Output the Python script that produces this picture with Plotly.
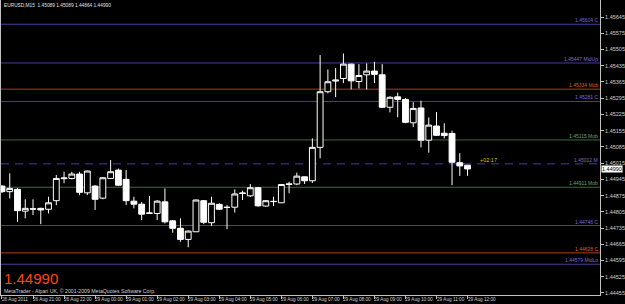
import plotly.graph_objects as go

# ---- data (EURUSD M15) ----
time_labels = ["26 Aug 2011", "26 Aug 21:00", "26 Aug 22:00", "29 Aug 00:00", "29 Aug 01:00",
               "29 Aug 02:00", "29 Aug 03:00", "29 Aug 04:00", "29 Aug 05:00", "29 Aug 06:00",
               "29 Aug 07:00", "29 Aug 08:00", "29 Aug 09:00", "29 Aug 10:00", "29 Aug 11:00",
               "29 Aug 12:00"]
label_bars = [0, 4, 8, 12, 16, 20, 24, 28, 32, 36, 40, 44, 48, 52, 56, 60]

opens = [1.44916, 1.44892, 1.44902, 1.44808, 1.44818, 1.44820, 1.44816, 1.44853, 1.44948, 1.44949,
         1.44968, 1.44887, 1.44916, 1.44864, 1.44949, 1.44985, 1.44945, 1.44851, 1.44838, 1.44798,
         1.44798, 1.44848, 1.44766, 1.44734, 1.44686, 1.44719, 1.44853, 1.44758, 1.44837, 1.44825,
         1.44825, 1.44884, 1.44874, 1.44909, 1.44830, 1.44849, 1.44844, 1.44923, 1.44925, 1.44956,
         1.44939, 1.45083, 1.45323, 1.45369, 1.45380, 1.45442, 1.45367, 1.45396, 1.45412, 1.45396,
         1.45256, 1.45301, 1.45290, 1.45189, 1.45253, 1.45114, 1.45175, 1.45144, 1.45143, 1.45017,
         1.45006]
highs = [1.44920, 1.44971, 1.44908, 1.44859, 1.44859, 1.44823, 1.44870, 1.44964, 1.44978, 1.44978,
         1.44978, 1.44983, 1.44920, 1.44955, 1.45028, 1.44992, 1.44985, 1.44870, 1.44847, 1.44874,
         1.44856, 1.44906, 1.44770, 1.44777, 1.44724, 1.44858, 1.44856, 1.44870, 1.44842, 1.44834,
         1.44902, 1.44896, 1.44925, 1.44912, 1.44856, 1.44870, 1.44925, 1.44935, 1.44974, 1.44957,
         1.45122, 1.45481, 1.45419, 1.45425, 1.45488, 1.45444, 1.45442, 1.45445, 1.45452, 1.45442,
         1.45304, 1.45319, 1.45296, 1.45278, 1.45284, 1.45212, 1.45235, 1.45187, 1.45155, 1.45058,
         1.45007]
lows = [1.44886, 1.44863, 1.44762, 1.44777, 1.44791, 1.44752, 1.44798, 1.44834, 1.44928, 1.44945,
        1.44877, 1.44877, 1.44813, 1.44859, 1.44948, 1.44916, 1.44834, 1.44820, 1.44770, 1.44797,
        1.44770, 1.44755, 1.44715, 1.44676, 1.44652, 1.44718, 1.44752, 1.44744, 1.44813, 1.44730,
        1.44802, 1.44856, 1.44869, 1.44827, 1.44827, 1.44830, 1.44843, 1.44885, 1.44920, 1.44925,
        1.44930, 1.45036, 1.45316, 1.45300, 1.45360, 1.45333, 1.45337, 1.45333, 1.45360, 1.45253,
        1.45234, 1.45213, 1.45187, 1.45171, 1.45083, 1.45060, 1.45132, 1.45122, 1.44920, 1.44960,
        1.44960]
closes = [1.44892, 1.44906, 1.44810, 1.44820, 1.44817, 1.44813, 1.44844, 1.44949, 1.44951, 1.44968,
          1.44889, 1.44981, 1.44859, 1.44952, 1.44978, 1.44920, 1.44853, 1.44838, 1.44795, 1.44800,
          1.44851, 1.44762, 1.44734, 1.44686, 1.44722, 1.44856, 1.44760, 1.44842, 1.44816, 1.44824,
          1.44882, 1.44886, 1.44909, 1.44831, 1.44853, 1.44850, 1.44923, 1.44925, 1.44959, 1.44939,
          1.45083, 1.45323, 1.45366, 1.45373, 1.45442, 1.45370, 1.45393, 1.45412, 1.45398, 1.45256,
          1.45299, 1.45290, 1.45191, 1.45251, 1.45114, 1.45179, 1.45135, 1.45134, 1.45019, 1.45003,
          1.44990]

level_values = [1.45614, 1.45447, 1.45334, 1.45281, 1.45115, 1.45012, 1.44911, 1.44746, 1.44628, 1.44579]
level_names = ["C", "MidUp", "Mob", "C", "Mob", "M", "Mob", "C", "C", "MidLo"]
level_kinds = ["p", "p", "o", "p", "g", "d", "g", "p", "o", "p"]

price_ticks = [1.44455, 1.44525, 1.44595, 1.44665, 1.44735, 1.44805, 1.44875, 1.44945, 1.45015,
               1.45085, 1.45155, 1.45225, 1.45295, 1.45365, 1.45435, 1.45505, 1.45575, 1.45645]

symbol_header = "EURUSD,M15  1.45089 1.45089 1.44864 1.44990"
last_price = 1.44990
timer_text = "+02:17"

# ---- styling ----
FONT = "Liberation Sans"
line_col = {"p": "#4a3c9a", "o": "#a8401a", "g": "#3c6a3c", "d": "#4a3c9a"}
text_col = {"p": "#7a6cd0", "o": "#d0602a", "g": "#6aa06a", "d": "#7a6cd0"}

bars = list(range(len(opens)))

fig = go.Figure()
fig.add_trace(go.Candlestick(
    x=bars, open=opens, high=highs, low=lows, close=closes,
    increasing=dict(line=dict(color="#ffffff", width=1), fillcolor="#000000"),
    decreasing=dict(line=dict(color="#ffffff", width=1), fillcolor="#ffffff"),
    whiskerwidth=0, hoverinfo="skip", showlegend=False,
))

shapes = []
annotations = []
for v, n, k in zip(level_values, level_names, level_kinds):
    shapes.append(dict(type="line", xref="paper", x0=0, x1=1, yref="y", y0=v, y1=v,
                       line=dict(color=line_col[k], width=1,
                                 dash="8px,6px" if k == "d" else "solid"), layer="below"))
    annotations.append(dict(xref="paper", x=1, yref="y", y=v, xanchor="right", yanchor="bottom",
                            xshift=-1, yshift=0, text=f"{v:.5f} {n}", showarrow=False, borderpad=0,
                            font=dict(family=FONT, size=5, color=text_col[k])))

for b, t in zip(label_bars, time_labels):
    annotations.append(dict(xref="x", x=b, yref="paper", y=0, xanchor="left", yanchor="top",
                            xshift=-1, yshift=-1, text=t, showarrow=False, borderpad=0,
                            font=dict(family=FONT, size=4.7, color="#d0d0d0")))

annotations.append(dict(xref="paper", x=0.003, yref="paper", y=1, xanchor="left", yanchor="top",
                        yshift=-2, text=symbol_header, showarrow=False, borderpad=0,
                        font=dict(family=FONT, size=4.8, color="#e0e0e0")))
annotations.append(dict(xref="paper", x=0.003, yref="paper", y=0.025, xanchor="left", yanchor="bottom",
                        text=f"{last_price:.5f}", showarrow=False, borderpad=0,
                        font=dict(family=FONT, size=15, color="#ff4500")))
annotations.append(dict(xref="paper", x=0.003, yref="paper", y=0.0, xanchor="left", yanchor="bottom",
                        text="MetaTrader - Alpari UK, © 2001-2009 MetaQuotes Software Corp.",
                        showarrow=False, borderpad=0, font=dict(family=FONT, size=5.2, color="#d0d0d0")))
annotations.append(dict(xref="x", x=len(opens) + 0.5, yref="y", y=1.45012, xanchor="left",
                        yanchor="bottom", text=timer_text, showarrow=False, borderpad=0,
                        font=dict(family=FONT, size=5.5, color="#c8c800")))
annotations.append(dict(xref="paper", x=1, yref="y", y=last_price, xanchor="left", yanchor="middle",
                        xshift=1, text=f"{last_price:.5f}", showarrow=False, bgcolor="#ffffff",
                        borderpad=0, font=dict(family=FONT, size=5.5, color="#000000")))

fig.update_layout(
    width=625, height=304,
    margin=dict(l=1, r=18, t=0, b=9),
    paper_bgcolor="#000000", plot_bgcolor="#000000",
    boxgap=0.25, boxgroupgap=0,
    shapes=shapes, annotations=annotations,
    xaxis=dict(range=[-0.127, 77.07], showgrid=False, zeroline=False, rangeslider=dict(visible=False),
               showline=True, linecolor="#c0c0c0", linewidth=1,
               tickmode="array", tickvals=label_bars, ticktext=[""] * len(label_bars),
               ticks="outside", ticklen=3, tickcolor="#c0c0c0"),
    yaxis=dict(range=[1.444463, 1.457186], side="right", showgrid=False, zeroline=False,
               showline=True, mirror=True, linecolor="#c0c0c0", linewidth=1,
               tickmode="array", tickvals=price_ticks, ticktext=[f"{p:.5f}" for p in price_ticks],
               ticks="outside", ticklen=3, tickcolor="#c0c0c0",
               tickfont=dict(family=FONT, size=5.5, color="#d0d0d0")),
    showlegend=False,
)

fig.write_html("out.html")
